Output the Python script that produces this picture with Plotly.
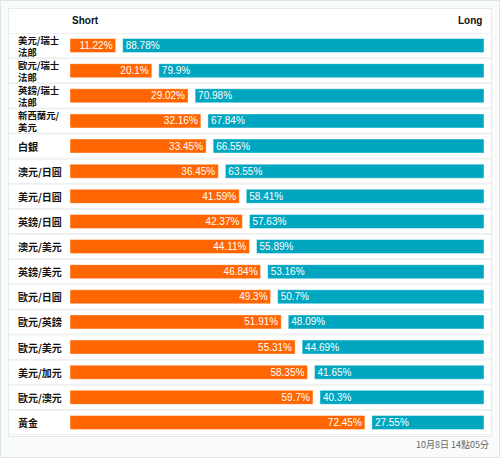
import plotly.graph_objects as go

labels = ["美元/瑞士\n法郎", "歐元/瑞士\n法郎", "英鎊/瑞士\n法郎", "新西蘭元/\n美元", "白銀",
          "澳元/日圓", "美元/日圓", "英鎊/日圓", "澳元/美元", "英鎊/美元", "歐元/日圓",
          "歐元/英鎊", "歐元/美元", "美元/加元", "歐元/澳元", "黃金"]
short_pct = [11.22, 20.1, 29.02, 32.16, 33.45, 36.45, 41.59, 42.37, 44.11, 46.84, 49.3,
             51.91, 55.31, 58.35, 59.7, 72.45]
long_pct = [88.78, 79.9, 70.98, 67.84, 66.55, 63.55, 58.41, 57.63, 55.89, 53.16, 50.7,
            48.09, 44.69, 41.65, 40.3, 27.55]
header_short = "Short"
header_long = "Long"
footer = "10月8日 14點05分"

W, H = 500, 458
L, R, T, B = 70, 16, 33, 23
PW, PH = W - L - R, H - T - B
GAP = 1.72
XMAX = 100 + GAP
n = len(labels)
ys = list(range(n))

def px(x):
    return (x - L) / PW

def py(y):
    return (H - B - y) / PH

ORANGE = "#FF6600"
TEAL = "#00A6BF"
FONT = "Liberation Sans, Arial, sans-serif"
CJK = "Noto Sans CJK TC, sans-serif"

fig = go.Figure()
fig.add_trace(go.Bar(
    y=ys, x=short_pct, orientation="h", marker=dict(color=ORANGE, line=dict(width=1, color="rgba(255,255,255,0.45)")),
    width=0.56, text=[f"{v:g}%" for v in short_pct], textposition="inside", insidetextanchor="end",
    constraintext="none",
    textfont=dict(color="white", size=10, family=FONT), hoverinfo="skip", cliponaxis=False))
fig.add_trace(go.Bar(
    y=ys, x=long_pct, base=[s + GAP for s in short_pct], orientation="h",
    marker=dict(color=TEAL, line=dict(width=1, color="rgba(255,255,255,0.45)")),
    width=0.56, text=[f"{v:g}%" for v in long_pct], textposition="inside", insidetextanchor="start",
    constraintext="none",
    textfont=dict(color="white", size=10, family=FONT), hoverinfo="skip", cliponaxis=False))

shapes = []
shapes.append(dict(type="rect", xref="paper", yref="paper", x0=px(0.5), x1=px(499.5), y0=py(457.5), y1=py(0.5),
                   line=dict(color="#DCE5E5", width=1), fillcolor="rgba(0,0,0,0)", layer="below"))
shapes.append(dict(type="rect", xref="paper", yref="paper", x0=px(8.5), x1=px(491.5), y0=py(436.5), y1=py(8.5),
                   line=dict(color="#E6ECEC", width=1), fillcolor="white", layer="below"))
for i in range(-1, n):
    shapes.append(dict(type="line", xref="paper", yref="y", x0=px(9), x1=px(491), y0=i + 0.5, y1=i + 0.5,
                       line=dict(color="#EFF1F1", width=2), layer="below"))

ann = []
for i, lab in enumerate(labels):
    parts = lab.split("\n")
    txt = "<br>".join(f"<b>{p}</b>" for p in parts)
    size = 10 if len(parts) == 1 else 9.4
    ann.append(dict(x=px(17), y=i, xref="paper", yref="y", text=txt, showarrow=False, align="left",
                    xanchor="left", yanchor="middle", borderpad=0,
                    font=dict(size=size, color="#111", family=CJK)))
ann.append(dict(x=px(70), y=py(20), xref="paper", yref="paper", text=f"<b>{header_short}</b>", showarrow=False,
                xanchor="left", yanchor="middle", font=dict(size=10, color="#111", family=FONT)))
ann.append(dict(x=px(484), y=py(20), xref="paper", yref="paper", text=f"<b>{header_long}</b>", showarrow=False,
                xanchor="right", yanchor="middle", font=dict(size=10, color="#111", family=FONT)))
ann.append(dict(x=px(491), y=py(444), xref="paper", yref="paper", text=footer, showarrow=False,
                xanchor="right", yanchor="middle", font=dict(size=9, color="#666", family=CJK)))

fig.update_layout(
    width=W, height=H, autosize=False,
    margin=dict(l=L, r=R, t=T, b=B, pad=0),
    paper_bgcolor="#F9FBFB", plot_bgcolor="rgba(0,0,0,0)",
    barmode="overlay", showlegend=False,
    xaxis=dict(range=[0, XMAX], visible=False, fixedrange=True),
    yaxis=dict(range=[n - 0.5, -0.5], visible=False, fixedrange=True),
    shapes=shapes, annotations=ann,
)
fig.write_html("out.html", config={"displayModeBar": False},
               post_script="document.body.style.margin='0';document.body.style.padding='0';")
